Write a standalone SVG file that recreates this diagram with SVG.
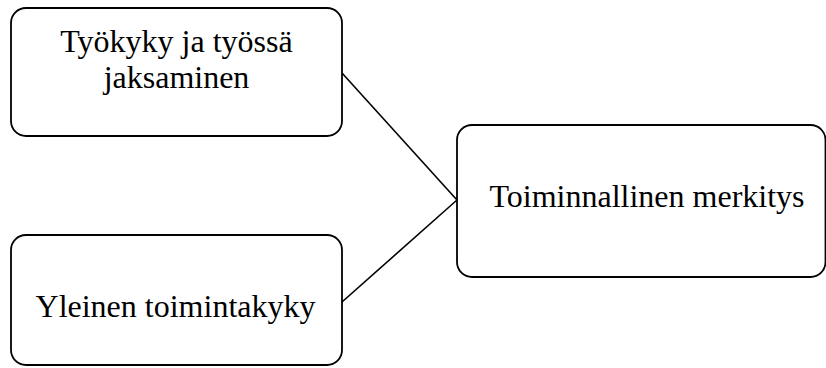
<svg xmlns="http://www.w3.org/2000/svg" width="826" height="368" viewBox="0 0 826 368">
<style>
.box{fill:#fff;stroke:#000;stroke-width:1.8}
.lbl{font-family:"Liberation Serif","Times New Roman",serif;font-size:32px;fill:#000;text-anchor:middle}
.conn{stroke:#000;stroke-width:1.6;fill:none}
</style>
<rect width="826" height="368" fill="#fff"/>
<g id="connectors">
<line class="conn" x1="342" y1="73" x2="457" y2="200"/>
<line class="conn" x1="342" y1="302" x2="457" y2="200"/>
</g>
<g id="node-tyokyky">
<rect class="box" x="11" y="8" width="331" height="128" rx="15" ry="15"/>
<text class="lbl" x="176.5" y="52">Työkyky ja työssä</text>
<text class="lbl" x="176.5" y="88">jaksaminen</text>
</g>
<g id="node-yleinen">
<rect class="box" x="11" y="235" width="331" height="130" rx="15" ry="15"/>
<text class="lbl" x="175.5" y="317">Yleinen toimintakyky</text>
</g>
<g id="node-toiminnallinen">
<rect class="box" x="457" y="125" width="368.5" height="152" rx="15" ry="15"/>
<text class="lbl" x="647" y="207">Toiminnallinen merkitys</text>
</g>
</svg>
